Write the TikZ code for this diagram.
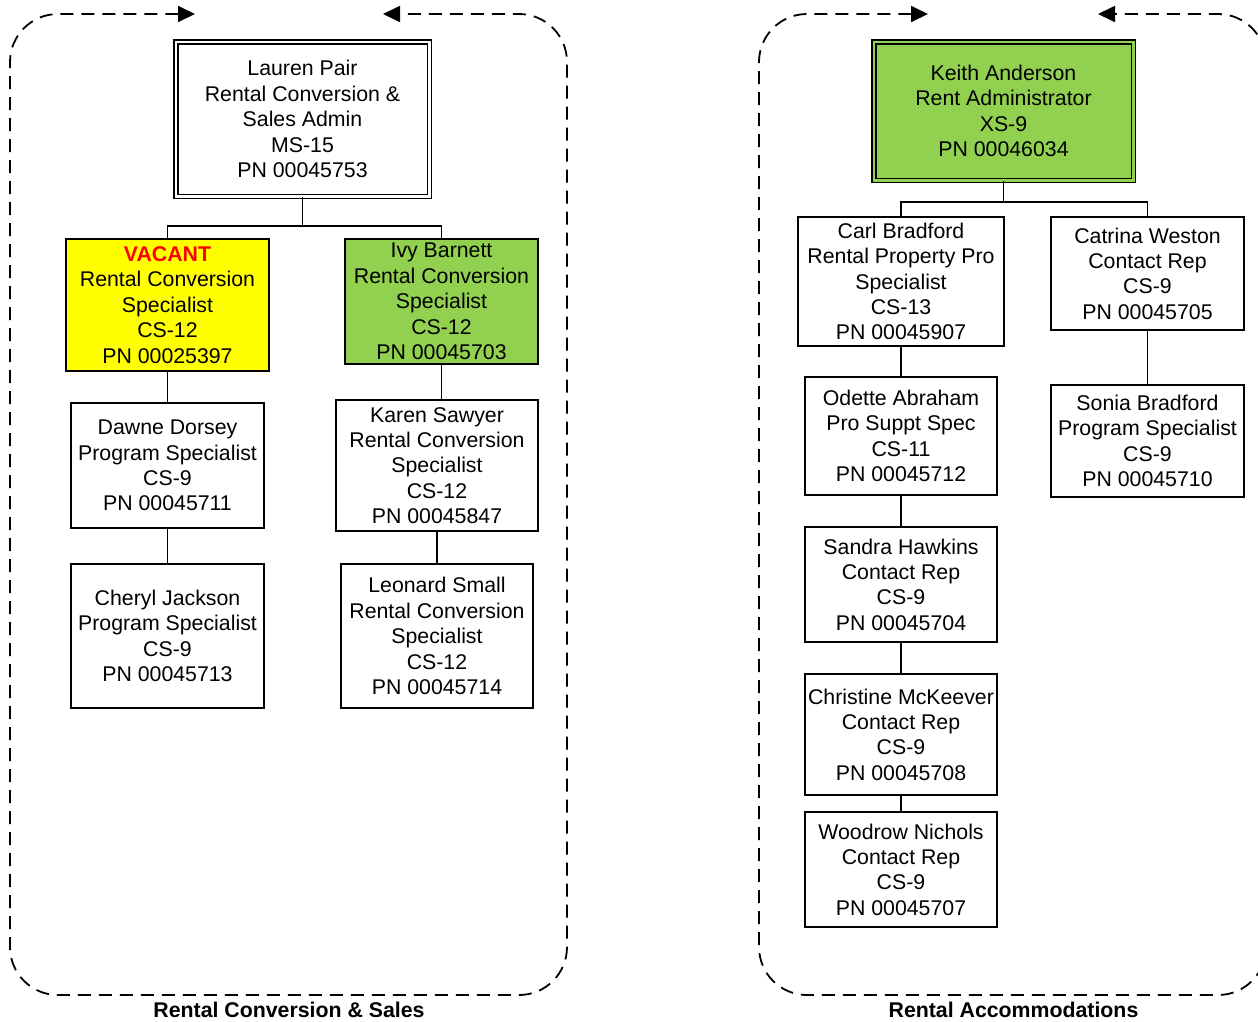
\documentclass[tikz,border=0pt]{standalone}
\usepackage{fontspec}
\setmainfont{Liberation Sans}
\usetikzlibrary{arrows.meta}
\definecolor{grn}{RGB}{146,208,80}
\definecolor{vred}{RGB}{255,0,0}
\definecolor{vyel}{RGB}{255,255,0}
\tikzset{
  pbox/.style={draw=black, line width=1.8pt, fill=white, align=center, inner sep=0pt,
    font=\fontsize{21.3}{25.4}\selectfont},
  dbox/.style={pbox, line width=1.5pt, double distance=2.5pt},
  conn/.style={line width=1.8pt, draw=black},
  bound/.style={line width=1.8pt, dash pattern=on 13pt off 8pt, rounded corners=48pt,
    {Triangle[length=17pt,width=16pt]}-{Triangle[length=17pt,width=16pt]}},
  lbl/.style={font=\fontsize{21.3}{25}\selectfont\bfseries, inner sep=0pt, anchor=base},
}
\begin{document}
\begin{tikzpicture}[x=1pt,y=-1pt]
\useasboundingbox (0,0) rectangle (1258,1021);
\clip (0,0) rectangle (1258,1021);

% boundaries
\draw[bound] (195,14) -- (10,14) -- (10,995) -- (567,995) -- (567,14) -- (383,14);
\draw[bound] (928,14) -- (759,14) -- (759,995) -- (1266,995) -- (1266,14) -- (1098,14);

% left section
\node[dbox, double=white, minimum width=253.5pt, minimum height=154.5pt] (lauren) at (302.5,119)
  {Lauren Pair\\Rental Conversion \&\\Sales Admin\\MS-15\\PN 00045753};
\node[pbox, fill=vyel, minimum width=203pt, minimum height=132pt] (vac) at (167.5,305)
  {{\color{vred}\bfseries VACANT}\\Rental Conversion\\Specialist\\CS-12\\PN 00025397};
\node[pbox, fill=grn, minimum width=193pt, minimum height=125pt] (ivy) at (441.5,301.5)
  {Ivy Barnett\\Rental Conversion\\Specialist\\CS-12\\PN 00045703};
\node[pbox, minimum width=193pt, minimum height=125pt] (dawne) at (167.5,465.5)
  {Dawne Dorsey\\Program Specialist\\CS-9\\PN 00045711};
\node[pbox, minimum width=193pt, minimum height=144pt] (cheryl) at (167.5,636)
  {Cheryl Jackson\\Program Specialist\\CS-9\\PN 00045713};
\node[pbox, minimum width=202pt, minimum height=131pt] (karen) at (437,465.5)
  {Karen Sawyer\\Rental Conversion\\Specialist\\CS-12\\PN 00045847};
\node[pbox, minimum width=192pt, minimum height=144pt] (leonard) at (437,636)
  {Leonard Small\\Rental Conversion\\Specialist\\CS-12\\PN 00045714};

\coordinate (j1) at (302.5,226);
\draw[conn] (lauren.south) -- (j1);
\draw[conn] (vac.north) -- (vac.north |- j1) -- (ivy.north |- j1) -- (ivy.north);
\draw[conn] (vac.south) -- (dawne.north);
\draw[conn] (dawne.south) -- (cheryl.north);
\draw[conn] (ivy.south) -- (ivy.south |- karen.north);
\draw[conn] (karen.south) -- (leonard.north);

% right section
\node[dbox, fill=grn, double=grn, minimum width=259.5pt, minimum height=138.5pt] (keith) at (1003.5,111)
  {Keith Anderson\\Rent Administrator\\XS-9\\PN 00046034};
\node[pbox, minimum width=206pt, minimum height=129pt] (carl) at (901,281.5)
  {Carl Bradford\\Rental Property Pro\\Specialist\\CS-13\\PN 00045907};
\node[pbox, minimum width=193pt, minimum height=113pt] (catrina) at (1147.5,273.5)
  {Catrina Weston\\Contact Rep\\CS-9\\PN 00045705};
\node[pbox, minimum width=192pt, minimum height=118pt] (odette) at (901,436)
  {Odette Abraham\\Pro Suppt Spec\\CS-11\\PN 00045712};
\node[pbox, minimum width=192pt, minimum height=115pt] (sandra) at (901,584.5)
  {Sandra Hawkins\\Contact Rep\\CS-9\\PN 00045704};
\node[pbox, minimum width=192pt, minimum height=121pt] (christine) at (901,734.5)
  {Christine McKeever\\Contact Rep\\CS-9\\PN 00045708};
\node[pbox, minimum width=192pt, minimum height=115pt] (woodrow) at (901,869.5)
  {Woodrow Nichols\\Contact Rep\\CS-9\\PN 00045707};
\node[pbox, minimum width=193pt, minimum height=112pt] (sonia) at (1147.5,441)
  {Sonia Bradford\\Program Specialist\\CS-9\\PN 00045710};

\coordinate (j2) at (1003.5,202);
\draw[conn] (keith.south) -- (j2);
\draw[conn] (carl.north) -- (carl.north |- j2) -- (catrina.north |- j2) -- (catrina.north);
\draw[conn] (carl.south) -- (odette.north);
\draw[conn] (odette.south) -- (sandra.north);
\draw[conn] (sandra.south) -- (christine.north);
\draw[conn] (christine.south) -- (woodrow.north);
\draw[conn] (catrina.south) -- (sonia.north);

% labels
\node[lbl] (t1) at (289,1017) {Rental Conversion \& Sales};
\node[lbl] (t2) at (1013.5,1017) {Rental Accommodations};
\end{tikzpicture}
\end{document}
